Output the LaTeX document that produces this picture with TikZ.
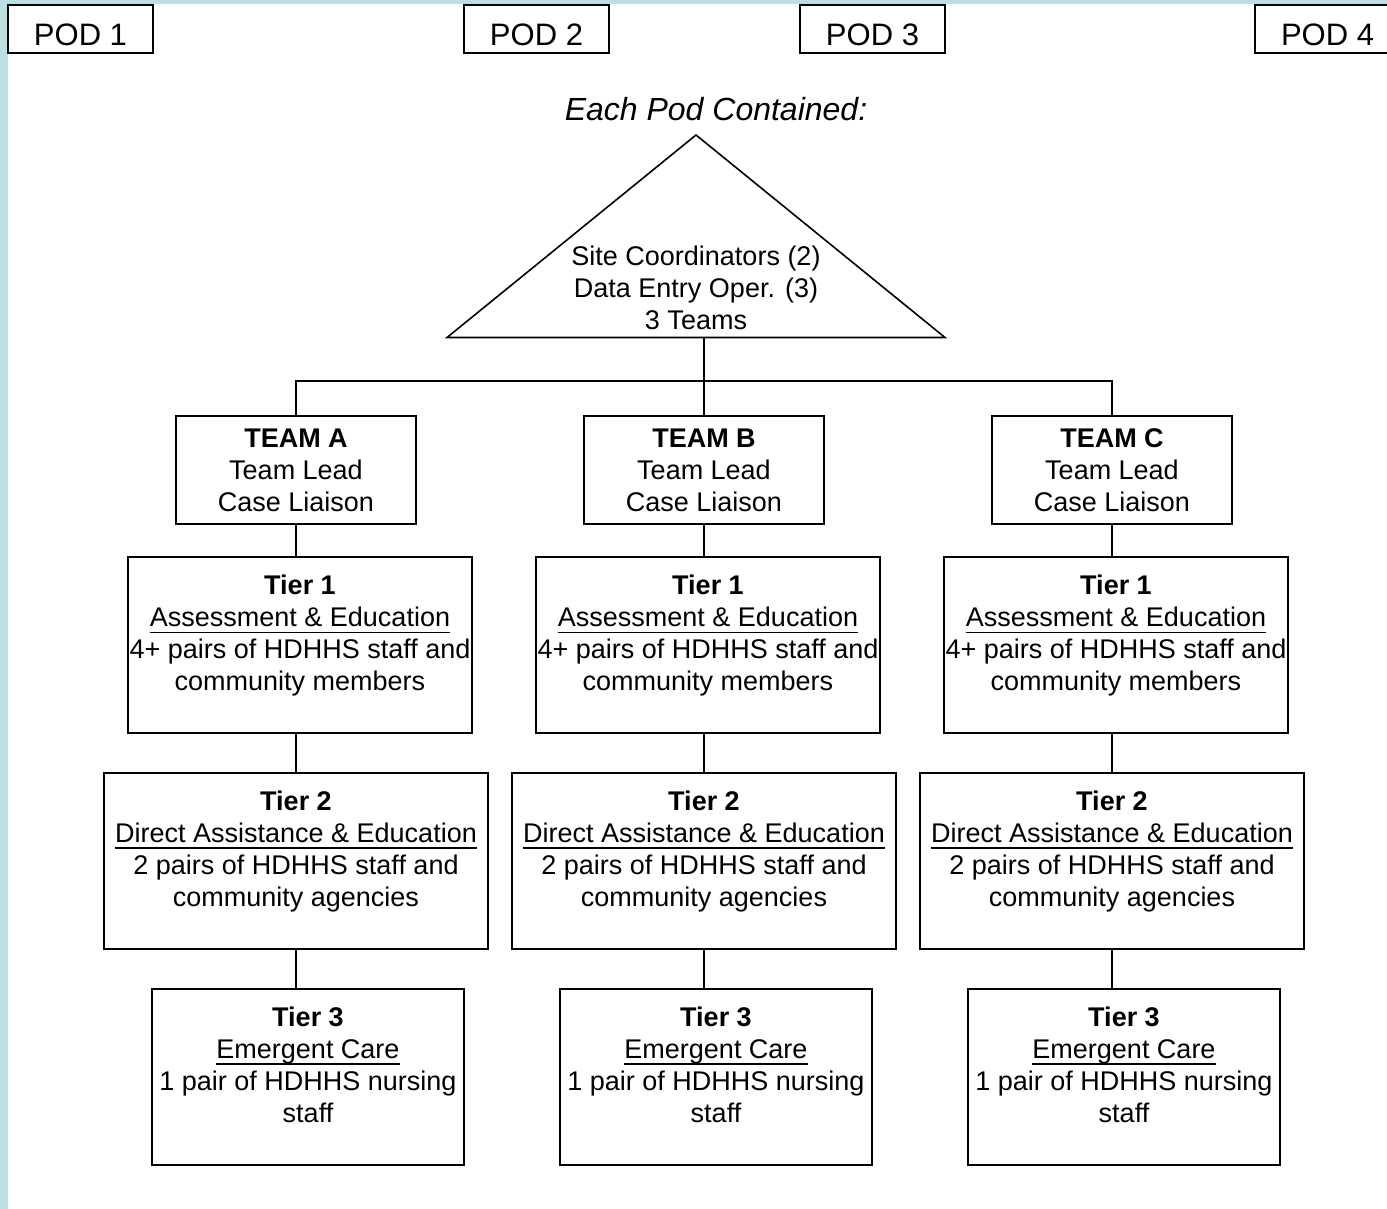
\documentclass[tikz,border=0pt]{standalone}
\usepackage{fontspec}
\setmainfont{Liberation Sans}

\definecolor{podbg}{RGB}{186,224,228}
\newcommand{\uln}[1]{\sbox0{#1}\rlap{\rule[-3.2pt]{\wd0}{0.75pt}}\usebox0}

\begin{document}
\begin{tikzpicture}[x=0.5pt, y=-0.5pt,
	box/.style={draw, line width=1pt, inner sep=0pt, align=center, font=\fontsize{13.5}{16}\selectfont},
	pod/.style={draw, line width=1pt, inner sep=0pt, minimum width=72.5pt, minimum height=24pt,
		font=\fontsize{15.5}{18}\selectfont, text height=16.6pt, text depth=0pt},
	team/.style={box, minimum width=120pt, minimum height=54pt},
	tier/.style={box, minimum height=88pt},
	link/.style={line width=1pt}]

	\useasboundingbox (0,0) rectangle (1387,1209);
	\fill[podbg] (0,0) rectangle (1387,1209);
	\fill[white] (7.5,4.5) rectangle (1387,1209);

	\node[pod] (pod1) at (80.5,29) {POD 1};
	\node[pod] (pod2) at (536.5,29) {POD 2};
	\node[pod] (pod3) at (872.5,29) {POD 3};
	\node[pod] (pod4) at (1327.5,29) {POD 4};

	\node (title) at (716,109) {\fontsize{16}{19}\selectfont\itshape Each Pod Contained:};

	% the pod itself
	\coordinate (apex) at (696,135);
	\coordinate (baseL) at (447,337.5);
	\coordinate (baseR) at (945,337.5);
	\draw[line width=0.8pt] (apex) -- (baseL) -- (baseR) -- cycle;
	\node[align=center, font=\fontsize{13.5}{16}\selectfont] (staff) at (696,288)
		{Site Coordinators (2)\\Data Entry Oper. (3)\\3 Teams};
	\coordinate (stem) at (704,337.5);
	\coordinate (bus) at (704,381);

	\begin{scope}
		\node[team] (teamA) at (296,470) {\textbf{TEAM A}\\Team Lead\\Case Liaison};
		\node[tier, minimum width=172pt] (tierA1) at (300,645)
			{\textbf{Tier 1}\\\uln{Assessment \& Education}\\4+ pairs of HDHHS staff and\\community members\\[-4pt]~};
		\node[tier, minimum width=192pt] (tierA2) at (296,860.5)
			{\textbf{Tier 2}\\\uln{Direct Assistance \& Education}\\2 pairs of HDHHS staff and\\community agencies\\[-4pt]~};
		\node[tier, minimum width=156pt] (tierA3) at (308,1076.5)
			{\textbf{Tier 3}\\\uln{Emergent Care}\\1 pair of HDHHS nursing\\staff\\[-4pt]~};
		\draw[link] (teamA.south) -- (teamA.south |- tierA1.north);
		\draw[link] (tierA1.south -| teamA) -- (tierA2.north);
		\draw[link] (tierA2.south) -- (tierA2.south |- tierA3.north);
	\end{scope}

	\begin{scope}[xshift=204pt]
		\node[team] (teamB) at (296,470) {\textbf{TEAM B}\\Team Lead\\Case Liaison};
		\node[tier, minimum width=172pt] (tierB1) at (300,645)
			{\textbf{Tier 1}\\\uln{Assessment \& Education}\\4+ pairs of HDHHS staff and\\community members\\[-4pt]~};
		\node[tier, minimum width=192pt] (tierB2) at (296,860.5)
			{\textbf{Tier 2}\\\uln{Direct Assistance \& Education}\\2 pairs of HDHHS staff and\\community agencies\\[-4pt]~};
		\node[tier, minimum width=156pt] (tierB3) at (308,1076.5)
			{\textbf{Tier 3}\\\uln{Emergent Care}\\1 pair of HDHHS nursing\\staff\\[-4pt]~};
		\draw[link] (teamB.south) -- (teamB.south |- tierB1.north);
		\draw[link] (tierB1.south -| teamB) -- (tierB2.north);
		\draw[link] (tierB2.south) -- (tierB2.south |- tierB3.north);
	\end{scope}

	\begin{scope}[xshift=408pt]
		\node[team] (teamC) at (296,470) {\textbf{TEAM C}\\Team Lead\\Case Liaison};
		\node[tier, minimum width=172pt] (tierC1) at (300,645)
			{\textbf{Tier 1}\\\uln{Assessment \& Education}\\4+ pairs of HDHHS staff and\\community members\\[-4pt]~};
		\node[tier, minimum width=192pt] (tierC2) at (296,860.5)
			{\textbf{Tier 2}\\\uln{Direct Assistance \& Education}\\2 pairs of HDHHS staff and\\community agencies\\[-4pt]~};
		\node[tier, minimum width=156pt] (tierC3) at (308,1076.5)
			{\textbf{Tier 3}\\\uln{Emergent Care}\\1 pair of HDHHS nursing\\staff\\[-4pt]~};
		\draw[link] (teamC.south) -- (teamC.south |- tierC1.north);
		\draw[link] (tierC1.south -| teamC) -- (tierC2.north);
		\draw[link] (tierC2.south) -- (tierC2.south |- tierC3.north);
	\end{scope}

	\draw[link] (stem) -- (bus) -| (teamA.north);
	\draw[link] (bus) -| (teamC.north);
	\draw[link] (bus) -- (bus |- teamB.north);

\end{tikzpicture}
\end{document}
